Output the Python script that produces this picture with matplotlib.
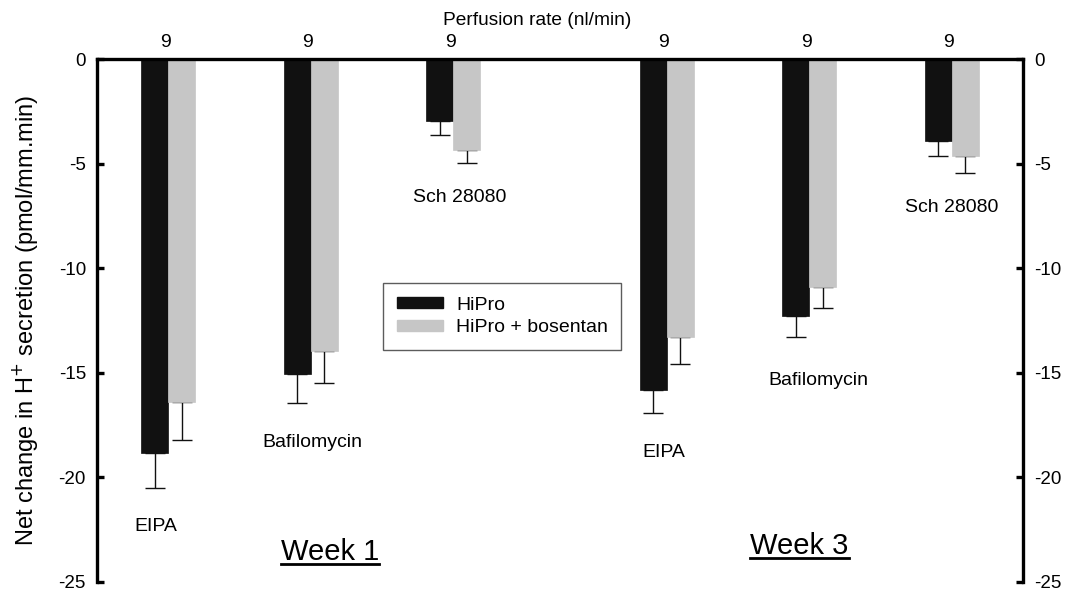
import matplotlib
matplotlib.use("Agg")
import matplotlib.pyplot as plt
from matplotlib.patches import Patch

plt.rcParams['font.family'] = ['Liberation Sans', 'DejaVu Sans']

# Treatments and group positions (week 1 and week 3)
treatments = ["EIPA", "Bafilomycin", "Sch 28080", "EIPA", "Bafilomycin", "Sch 28080"]
group_pos = [0.5, 1.5, 2.5, 4.0, 5.0, 6.0]
perfusion_n = ["9", "9", "9", "9", "9", "9"]

# Net change in H+ secretion (pmol/mm.min)
hipro = [-18.85, -15.05, -2.95, -15.8, -12.3, -3.9]
hipro_err = [1.65, 1.4, 0.7, 1.1, 1.0, 0.75]
bosentan = [-16.4, -13.95, -4.35, -13.3, -10.9, -4.65]
bosentan_err = [1.8, 1.55, 0.62, 1.3, 1.0, 0.8]

# Treatment label placement (data units)
label_x = [0.414, 1.509, 2.547, 3.979, 5.067, 6.0]
label_y = [-22.37, -18.31, -6.6, -18.83, -15.39, -7.1]

week_labels = ["Week 1", "Week 3"]
week_x = [1.635, 4.93]
week_y = [-23.57, -23.28]

black = "#111111"
grey = "#c6c6c6"
w = 0.19

W, H = 1068, 591
fig = plt.figure(figsize=(W / 100, H / 100), dpi=100)
ax_l, ax_r, ax_t, ax_b = 97, 1023, 59, 582
ax = fig.add_axes([ax_l / W, 1 - ax_b / H, (ax_r - ax_l) / W, (ax_b - ax_t) / H])

x_black = [p - w / 2 for p in group_pos]
x_grey = [p + w / 2 for p in group_pos]

ax.bar(x_black, hipro, width=w, color=black, edgecolor=black, linewidth=0.5, zorder=2)
ax.bar(x_grey, bosentan, width=w, color=grey, edgecolor=grey, linewidth=0.5, zorder=2)

# one-sided (downward) error bars
ax.errorbar(x_black, hipro, yerr=[hipro_err, [0] * 6], fmt='none', ecolor=black,
            elinewidth=1.0, capsize=7, capthick=1.0, zorder=1)
ax.errorbar(x_grey, bosentan, yerr=[bosentan_err, [0] * 6], fmt='none', ecolor=black,
            elinewidth=1.0, capsize=7, capthick=1.0, zorder=1)

ax.set_xlim(0, 6.5)
ax.set_ylim(-25, 0)
ax.set_yticks([0, -5, -10, -15, -20, -25])
ax.set_yticklabels(["0", "-5", "-10", "-15", "-20", "-25"])
ax.set_xticks([])

for side in ["top", "left", "right"]:
    ax.spines[side].set_linewidth(2.4)
ax.spines["bottom"].set_visible(False)

ax.tick_params(axis='y', left=True, right=True, labelleft=True, labelright=True,
               direction='in', length=5, width=2.4, labelsize=13.5, pad=8)

ax.set_ylabel("Net change in H$^{+}$ secretion (pmol/mm.min)", fontsize=17, labelpad=13)

# perfusion rate numbers along the top
for p, n in zip(group_pos, perfusion_n):
    ax.text(p - 0.02, 0.4, n, ha='center', va='bottom', fontsize=14)
ax.text(3.09, 1.63, "Perfusion rate (nl/min)", ha='center', va='baseline', fontsize=13.8)

# treatment labels
for lx, ly, t in zip(label_x, label_y, treatments):
    ax.text(lx, ly, t, ha='center', va='center', fontsize=14)

# week labels, underlined
fig.canvas.draw()
for wx, wy, wl in zip(week_x, week_y, week_labels):
    t = ax.text(wx, wy, wl, ha='center', va='center', fontsize=21)
    fig.canvas.draw()
    bb = t.get_window_extent().transformed(ax.transData.inverted())
    ax.plot([bb.x0, bb.x1], [bb.y0 + 0.1, bb.y0 + 0.1], color='black', lw=2.0,
            clip_on=False)

handles = [Patch(facecolor=black, edgecolor=black), Patch(facecolor=grey, edgecolor=grey)]
leg = fig.legend(handles, ["HiPro", "HiPro + bosentan"], loc='upper left',
                 bbox_to_anchor=(383 / W, 1 - 283 / H), bbox_transform=fig.transFigure,
                 borderaxespad=0, fontsize=14, frameon=True, fancybox=False,
                 handlelength=2.4, handleheight=0.5, handletextpad=0.65,
                 borderpad=0.7, labelspacing=0.3)
leg.get_frame().set_edgecolor('#333333')
leg.get_frame().set_linewidth(1.0)

fig.savefig("out.png", dpi=100)
